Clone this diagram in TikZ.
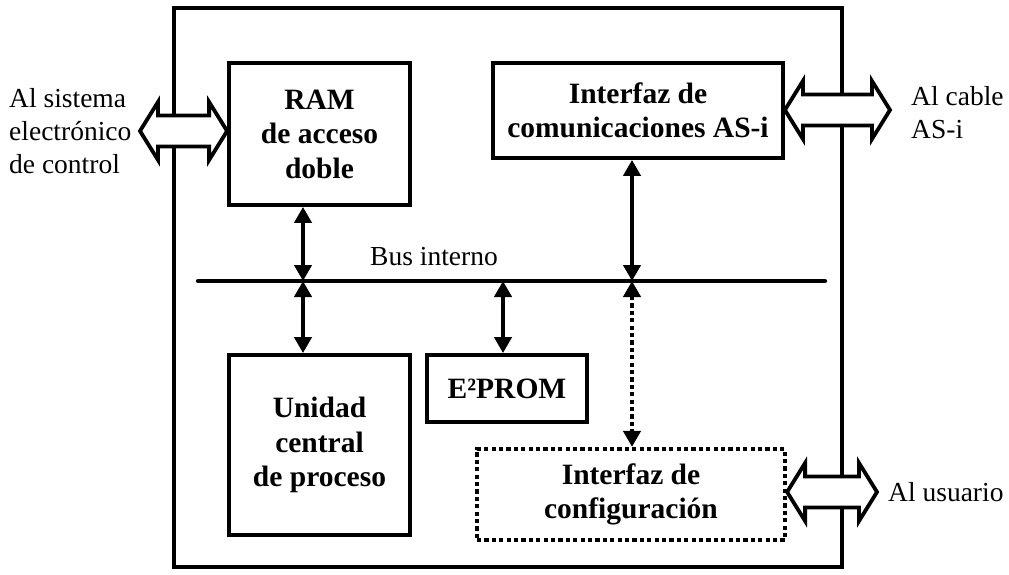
\documentclass[tikz,border=0pt]{standalone}
\usepackage{fontspec}
\setmainfont{Liberation Serif}
\usetikzlibrary{arrows.meta,calc}

% hollow double arrow between two points on one horizontal line
\newcommand\hollowarrow[2]{%
  \draw[hollow] (#1) -- ($(#1)+(18,-29)$) -- ($(#1)+(18,-15.5)$)
    -- ($(#2)+(-18,-15.5)$) -- ($(#2)+(-18,-29)$) -- (#2)
    -- ($(#2)+(-18,29)$) -- ($(#2)+(-18,15.5)$)
    -- ($(#1)+(18,15.5)$) -- ($(#1)+(18,29)$) -- cycle;}

\begin{document}
\begin{tikzpicture}[x=1pt,y=-1pt,
  lbl/.style={font=\fontsize{27.5}{33}\selectfont, inner sep=0pt, align=left},
  blk/.style={draw, line width=3.8pt, font=\bfseries\fontsize{29.5}{34.5}\selectfont,
    align=center, inner sep=0pt},
  dotbox/.style={blk, line width=4.2pt, dash pattern=on 4.2pt off 3.2pt},
  tipT/.tip={Triangle[length=16pt,width=17pt]},
  bi/.style={line width=4.2pt, tipT-tipT},
  bidot/.style={bi, dash pattern=on 4.2pt off 3.2pt},
  hollow/.style={draw, fill=white, line width=3.8pt, line join=miter}
]
\useasboundingbox (0,0) rectangle (1009,575);

% module frame
\node[draw, line width=4.2pt, minimum width=668pt, minimum height=559pt,
  inner sep=0pt] (frame) at (508,287.5) {};

% functional blocks
\node[blk, minimum width=181pt, minimum height=142pt] (ram) at (319.5,134)
  {RAM\\de acceso\\doble};
\node[blk, minimum width=290pt, minimum height=95pt] (comm) at (638,110.5)
  {Interfaz de\\comunicaciones AS-i};
\node[blk, minimum width=181pt, minimum height=180pt] (cpu) at (319.5,445)
  {Unidad\\central\\de proceso};
\node[blk, minimum width=160pt, minimum height=67pt] (eep) at (507,388.5)
  {E²PROM};
\node[dotbox, minimum width=308pt, minimum height=91pt] (cfg) at (631,494.5)
  {Interfaz de\\configuración};

% internal bus
\coordinate (busL) at (198,281);
\coordinate (busR) at (825,281);
\draw[line width=4.2pt, line cap=round] (busL) -- (busR);
\node[lbl] (busname) at (434,257) {Bus interno};

% bus taps
\coordinate (colA) at (303,0);
\coordinate (colB) at (503,0);
\coordinate (colC) at (632,0);
\draw[bi] (ram.south -| colA) -- (busL -| colA);
\draw[bi] (busL -| colA) -- (cpu.north -| colA);
\draw[bi] (busL -| colB) -- (eep.north -| colB);
\draw[bi] (comm.south -| colC) -- (busL -| colC);
\draw[bidot] (busL -| colC) -- (cfg.north -| colC);

% external connections
\node[lbl, anchor=west] (lsys) at (9,131) {Al sistema\\electrónico\\de control};
\node[lbl, anchor=west] (lcab) at (911,113) {Al cable\\AS-i};
\node[lbl, anchor=west] (lusr) at (888,492) {Al usuario};

\coordinate (tipSys) at (140,131);
\coordinate (tipCab) at (890,110);
\coordinate (tipUsr) at (877,492);
\hollowarrow{tipSys}{ram.west |- tipSys}
\hollowarrow{comm.east |- tipCab}{tipCab}
\hollowarrow{cfg.east |- tipUsr}{tipUsr}
\end{tikzpicture}
\end{document}
